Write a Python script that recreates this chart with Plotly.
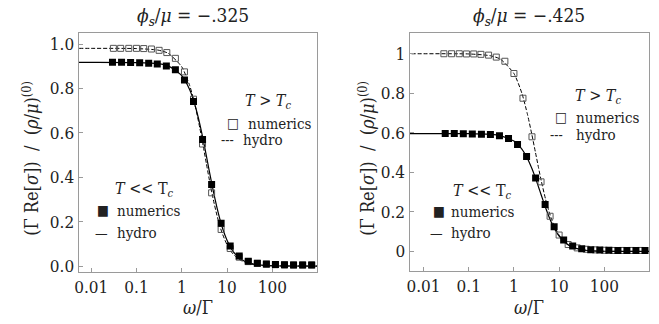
import plotly.graph_objects as go

# ---------------- data ----------------
# hydro curves
hydro_w = [0.004, 0.01, 0.1, 0.3, 0.5, 1, 1.5, 2, 2.5, 3, 3.5, 4, 5, 6, 7, 8, 10, 13, 16, 20, 30, 50, 100, 1000]
left_hydro_low = [0.918, 0.918, 0.917, 0.912, 0.902, 0.858, 0.794, 0.719, 0.641, 0.566, 0.497, 0.435, 0.336,
                  0.263, 0.209, 0.169, 0.116, 0.072, 0.049, 0.032, 0.0145, 0.0053, 0.0013, 0.0]
left_hydro_high = [0.981, 0.981, 0.980, 0.973, 0.959, 0.898, 0.813, 0.718, 0.623, 0.537, 0.462, 0.397, 0.298,
                   0.228, 0.178, 0.143, 0.096, 0.059, 0.040, 0.026, 0.0117, 0.0043, 0.0011, 0.0]
right_hydro_low = [0.596, 0.596, 0.596, 0.592, 0.586, 0.558, 0.518, 0.469, 0.419, 0.371, 0.326, 0.287, 0.222,
                   0.174, 0.138, 0.112, 0.077, 0.048, 0.0326, 0.0213, 0.0097, 0.0035, 0.0009, 0.0]
right_hydro_high = [1.0, 1.0, 0.999, 0.990, 0.973, 0.900, 0.800, 0.692, 0.590, 0.500, 0.424, 0.360, 0.265,
                    0.200, 0.155, 0.123, 0.0826, 0.0506, 0.034, 0.022, 0.0099, 0.0036, 0.0009, 0.0]

# numerics, left panel (phi_s/mu = -.325)
left_low_w = [0.0295, 0.0468, 0.0741, 0.1175, 0.186, 0.288, 0.457, 0.724, 1.148, 1.82, 2.88, 4.57, 7.41,
              11.75, 18.6, 29.5, 46.8, 74.1, 117.5, 186, 295, 468, 741]
left_low_v = [0.918, 0.918, 0.917, 0.916, 0.914, 0.910, 0.902, 0.885, 0.838, 0.742, 0.570, 0.368, 0.193,
              0.090, 0.045, 0.022, 0.013, 0.009, 0.007, 0.006, 0.005, 0.005, 0.005]
left_high_w = [0.0309, 0.0447, 0.0676, 0.1, 0.1445, 0.214, 0.316, 0.468, 0.724, 1.148, 1.82, 2.88, 4.57, 7.41,
               11.75, 18.6, 29.5, 46.8, 74.1, 117.5, 186, 295, 468, 741]
left_high_v = [0.981, 0.981, 0.981, 0.981, 0.980, 0.978, 0.972, 0.962, 0.936, 0.875, 0.752, 0.55, 0.33, 0.165,
               0.079, 0.04, 0.02, 0.012, 0.008, 0.006, 0.005, 0.005, 0.005, 0.005]

# numerics, right panel (phi_s/mu = -.425)
right_low_w = [0.0302, 0.0479, 0.0759, 0.120, 0.191, 0.302, 0.479, 0.759, 1.202, 1.905, 3.02, 4.90, 7.76,
               12.6, 19.95, 31.6, 50.1, 79.4, 126, 200, 316, 501, 794]
right_low_v = [0.596, 0.596, 0.595, 0.594, 0.593, 0.591, 0.585, 0.571, 0.541, 0.480, 0.372, 0.238, 0.125,
               0.058, 0.028, 0.014, 0.009, 0.007, 0.006, 0.005, 0.005, 0.005, 0.005]
right_high_w = [0.0282, 0.0417, 0.0617, 0.0891, 0.129, 0.186, 0.275, 0.407, 0.631, 1.0, 1.585, 2.51, 3.98, 6.31,
                10, 15.85, 25.1, 39.8, 63.1, 100, 158.5, 251, 398, 631]
right_high_v = [1.0, 1.0, 1.0, 0.999, 0.999, 0.997, 0.993, 0.983, 0.962, 0.90, 0.775, 0.58, 0.352, 0.178,
                0.083, 0.035, 0.018, 0.011, 0.008, 0.006, 0.005, 0.005, 0.005, 0.005]

x_tickvals = [0.01, 0.1, 1, 10, 100]
x_ticktext = ["0.01", "0.1", "1", "10", "100"]
left_y_tickvals = [0.0, 0.2, 0.4, 0.6, 0.8, 1.0]
left_y_ticktext = ["0.0", "0.2", "0.4", "0.6", "0.8", "1.0"]
right_y_tickvals = [0, 0.2, 0.4, 0.6, 0.8, 1]
right_y_ticktext = ["0", "0.2", "0.4", "0.6", "0.8", "1"]
titles = ["<i>ϕ<sub>s</sub></i>/<i>μ</i> = −.325", "<i>ϕ<sub>s</sub></i>/<i>μ</i> = −.425"]

# ---------------- figure ----------------
W, H = 659, 324
FONT = "DejaVu Serif Condensed, DejaVu Serif"
fig = go.Figure()

def add_panel(xa, ya, hw, hlow, hhigh, lw, lv, hw2, hv):
    fig.add_trace(go.Scatter(x=hw, y=hlow, mode="lines", xaxis=xa, yaxis=ya,
                             line=dict(color="black", width=1.2, shape="spline", smoothing=0.6),
                             showlegend=False, hoverinfo="skip"))
    fig.add_trace(go.Scatter(x=hw, y=hhigh, mode="lines", xaxis=xa, yaxis=ya,
                             line=dict(color="black", width=1, dash="4px,2px", shape="spline", smoothing=0.6),
                             showlegend=False, hoverinfo="skip"))
    fig.add_trace(go.Scatter(x=hw2, y=hv, mode="markers", xaxis=xa, yaxis=ya,
                             marker=dict(symbol="square-open", size=6, color="#555555", line=dict(width=1)),
                             showlegend=False))
    fig.add_trace(go.Scatter(x=lw, y=lv, mode="markers", xaxis=xa, yaxis=ya,
                             marker=dict(symbol="square", size=7, color="black"),
                             showlegend=False))

add_panel("x", "y", hydro_w, left_hydro_low, left_hydro_high, left_low_w, left_low_v, left_high_w, left_high_v)
add_panel("x2", "y2", hydro_w, right_hydro_low, right_hydro_high, right_low_w, right_low_v, right_high_w, right_high_v)

def px_x(v):
    return v / W

def px_y(v):
    return 1 - v / H

axis_common = dict(showline=True, mirror=True, linecolor="#9a9a9a", linewidth=1, ticks="inside",
                   ticklen=4, tickcolor="#9a9a9a", showgrid=False, zeroline=False,
                   tickfont=dict(family=FONT, size=17, color="#222222"))

fig.update_layout(
    width=W, height=H, margin=dict(l=0, r=0, t=0, b=0),
    paper_bgcolor="white", plot_bgcolor="white",
    font=dict(family=FONT, color="#222222"),
    xaxis=dict(domain=[px_x(75), px_x(315)], type="log", range=[-2.28, 2.99], anchor="y",
               tickvals=x_tickvals, ticktext=x_ticktext, **axis_common),
    yaxis=dict(domain=[px_y(275), px_y(33)], range=[-0.025, 1.052], anchor="x",
               tickvals=left_y_tickvals, ticktext=left_y_ticktext, **axis_common),
    xaxis2=dict(domain=[px_x(408), px_x(649)], type="log", range=[-2.31, 2.99], anchor="y2",
                tickvals=x_tickvals, ticktext=x_ticktext, **axis_common),
    yaxis2=dict(domain=[px_y(274), px_y(33)], range=[-0.097, 1.107], anchor="x2",
                tickvals=right_y_tickvals, ticktext=right_y_ticktext, **axis_common),
)

ann = []
def text(x, y, s, size=15, xanchor="left", angle=0):
    ann.append(dict(x=px_x(x), y=px_y(y), xref="paper", yref="paper", text=s, showarrow=False,
                    xanchor=xanchor, yanchor="middle", textangle=angle,
                    font=dict(family=FONT, size=size, color="#222222")))

# panel titles
text(190, 17, titles[0], size=19, xanchor="center")
text(528, 17, titles[1], size=19, xanchor="center")
# axis titles
ytitle = "(Γ Re[<i>σ</i>])  /  (<i>ρ</i>/<i>μ</i>)<sup>(0)</sup>"
text(27, 160, ytitle, size=18, xanchor="center", angle=-90)
text(365, 160, ytitle, size=18, xanchor="center", angle=-90)
text(195, 311, "<i>ω</i>/Γ", size=18, xanchor="center")
text(528, 311, "<i>ω</i>/Γ", size=18, xanchor="center")

# legends, left panel
text(240, 103, "<i>T</i> > <i>T<sub>c</sub></i>", size=16)
text(230, 125, "□", size=14, xanchor="center")
text(243, 126, "numerics")
text(225, 142, "---", size=14, xanchor="center")
text(238, 142, "hydro")
text(110, 192, "<i>T</i> << T<sub><i>c</i></sub>", size=16)
text(100, 213, "■", size=14, xanchor="center")
text(112, 214, "numerics")
text(98.5, 236, "—", size=14, xanchor="center")
text(112, 236, "hydro")
# legends, right panel
text(572, 98, "<i>T</i> > <i>T<sub>c</sub></i>", size=16)
text(560, 118, "□", size=14, xanchor="center")
text(573, 119, "numerics")
text(556, 137, "---", size=14, xanchor="center")
text(573, 137, "hydro")
text(450, 194, "<i>T</i> << T<sub><i>c</i></sub>", size=16)
text(438, 214, "■", size=14, xanchor="center")
text(448, 215, "numerics")
text(435, 236, "—", size=14, xanchor="center")
text(448, 236, "hydro")

fig.update_layout(annotations=ann)
fig.write_html("out.html", config={"displayModeBar": False},
               post_script="document.body.style.margin='0';")
